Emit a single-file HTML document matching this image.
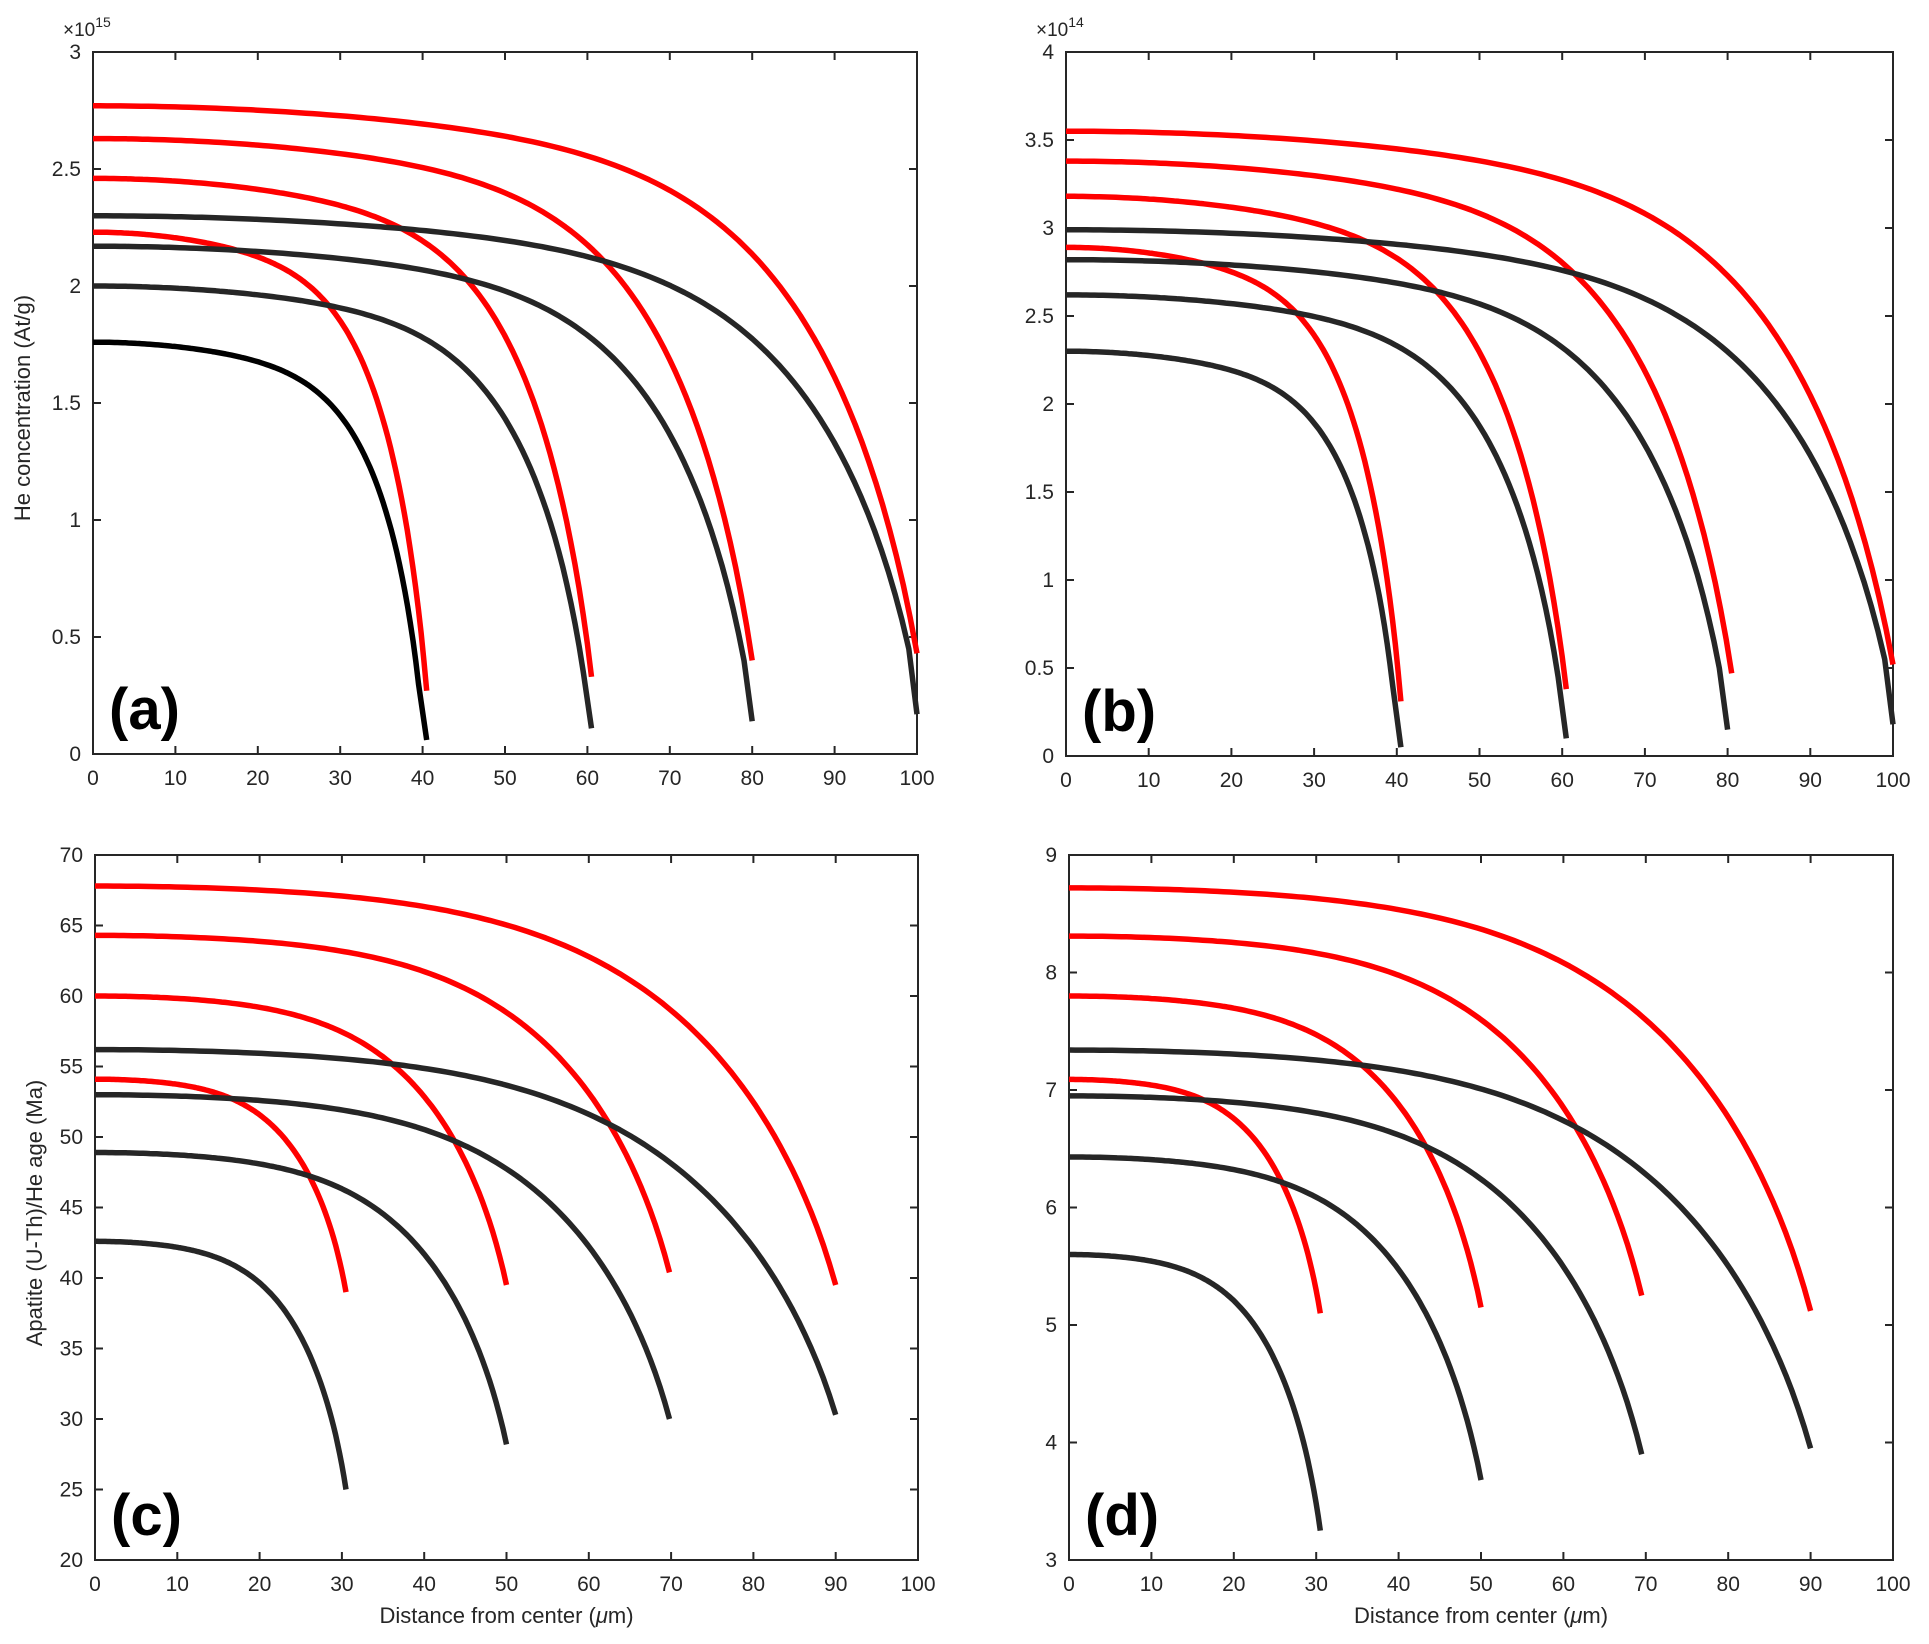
<!DOCTYPE html>
<html><head><meta charset="utf-8"><style>
html,body{margin:0;padding:0;background:#fff;}
svg{display:block;font-family:"Liberation Sans",Arial,sans-serif;}
</style></head><body>
<svg id="s" width="1929" height="1644" viewBox="0 0 1929 1644" xmlns="http://www.w3.org/2000/svg"></svg>
<script>
const S=document.getElementById('s');let h='';
function panel(p){
 const {x0,x1,y0,y1,ymin,ymax,yt,ylab,letter,exp,xlab,n,cc,w,curves}=p;
 const X=v=>x0+(x1-x0)*v/100, Y=v=>y1-(y1-y0)*(v-ymin)/(ymax-ymin);
 h+=`<rect x="${x0}" y="${y0}" width="${x1-x0}" height="${y1-y0}" fill="none" stroke="#262626" stroke-width="2"/>`;
 for(let v=0;v<=100;v+=10){const x=X(v);
  h+=`<line x1="${x}" y1="${y1}" x2="${x}" y2="${y1-8}" stroke="#262626" stroke-width="2"/><line x1="${x}" y1="${y0}" x2="${x}" y2="${y0+8}" stroke="#262626" stroke-width="2"/>`;
  h+=`<text x="${x}" y="${y1+31}" font-size="21" text-anchor="middle" fill="#262626">${v}</text>`;}
 yt.forEach(v=>{const y=Y(v);
  h+=`<line x1="${x0}" y1="${y}" x2="${x0+8}" y2="${y}" stroke="#262626" stroke-width="2"/><line x1="${x1}" y1="${y}" x2="${x1-8}" y2="${y}" stroke="#262626" stroke-width="2"/>`;
  h+=`<text x="${x0-12}" y="${y+7}" font-size="21" text-anchor="end" fill="#262626">${v}</text>`;});
 if(exp) h+=`<text x="${x0-30}" y="${y0-16}" font-size="19" fill="#262626">×10<tspan dy="-9" font-size="14">${exp}</tspan></text>`;
 if(ylab) h+=`<text transform="translate(${ylab[0]},${ylab[1]}) rotate(-90)" font-size="22" text-anchor="middle" fill="#262626">${ylab[2]}</text>`;
 if(xlab) h+=`<text x="${(x0+x1)/2}" y="${y1+63}" font-size="22" text-anchor="middle" fill="#262626">Distance from center (<tspan font-style="italic">μ</tspan>m)</text>`;
 curves.forEach(c=>{
  const [col,R,a,e,kink]=c;let pts=[];
  const Rs=kink?R-1:R, ye=kink?kink:e;
  const g=u=>Math.pow(Math.max(0,1-Math.pow(u*cc,n)),0.5), g1=g(1);
  for(let i=0;i<=120;i++){const u=i/120;const x=Rs*u;const f=(1-w*u*u)*(g(u)-g1)/(1-g1);pts.push([X(x),Y(ye+(a-ye)*f)]);}
  if(kink)pts.push([X(R),Y(e)]);
  h+=`<polyline points="${pts.map(p=>p[0].toFixed(1)+','+p[1].toFixed(1)).join(' ')}" fill="none" stroke="${col}" stroke-width="5.5" stroke-linejoin="round"/>`;
 });
 h+=`<text x="${x0+16}" y="${y1-25}" font-size="58" font-weight="bold" fill="#000">${letter}</text>`;
}
const R='#ff0000',K='#262626';
panel({x0:93,x1:917,y0:52,y1:754,ymin:0,ymax:3,yt:[0,0.5,1,1.5,2,2.5,3],exp:'15',letter:'(a)',n:7,cc:0.96,w:0.2,
 ylab:[30,408,'He concentration (At/g)'],
 curves:[[R,100,2.77,0.43],[R,80,2.63,0.4],[R,60.5,2.46,0.33],[R,40.5,2.23,0.27],
 [K,100,2.30,0.17,0.45],[K,80,2.17,0.14,0.4],[K,60.5,2.0,0.11,0.35],['#000',40.5,1.76,0.06,0.3]]});
panel({x0:1066,x1:1893,y0:52,y1:756,ymin:0,ymax:4,yt:[0,0.5,1,1.5,2,2.5,3,3.5,4],exp:'14',letter:'(b)',n:7,cc:0.96,w:0.2,
 curves:[[R,100,3.55,0.52],[R,80.5,3.38,0.47],[R,60.5,3.18,0.38],[R,40.5,2.89,0.31],
 [K,100,2.99,0.18,0.55],[K,80,2.82,0.15,0.5],[K,60.5,2.62,0.1,0.45],[K,40.5,2.30,0.05,0.4]]});
panel({x0:95,x1:918,y0:855,y1:1560,ymin:20,ymax:70,yt:[20,25,30,35,40,45,50,55,60,65,70],letter:'(c)',n:5,cc:0.96,w:0.2,xlab:1,
 ylab:[42,1213,'Apatite (U-Th)/He age (Ma)'],
 curves:[[R,90,67.8,39.5],[R,69.8,64.3,40.4],[R,50,60,39.5],[R,30.5,54.1,39],
 [K,90,56.2,30.3],[K,69.8,53,30],[K,50,48.9,28.2],[K,30.5,42.6,25]]});
panel({x0:1069,x1:1893,y0:855,y1:1560,ymin:3,ymax:9,yt:[3,4,5,6,7,8,9],letter:'(d)',n:5,cc:0.96,w:0.2,xlab:1,
 curves:[[R,90,8.72,5.12],[R,69.5,8.31,5.25],[R,50,7.8,5.15],[R,30.5,7.09,5.1],
 [K,90,7.34,3.95],[K,69.5,6.95,3.9],[K,50,6.43,3.68],[K,30.5,5.6,3.25]]});
S.innerHTML=h;
</script>
</body></html>
